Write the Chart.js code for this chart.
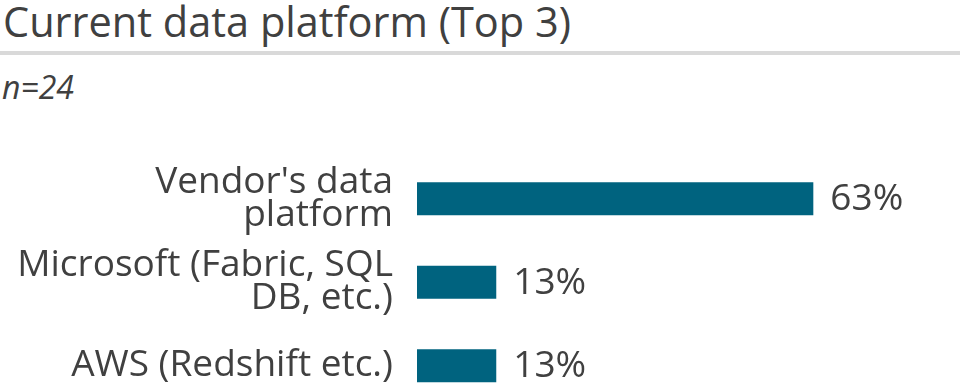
<!DOCTYPE html>
<html>
<head>
<meta charset="utf-8">
<script src="https://cdn.jsdelivr.net/npm/chart.js@4/dist/chart.umd.min.js"></script>
<style>
  html, body { margin: 0; padding: 0; background: #fff; }
  #wrap { position: relative; width: 960px; height: 390px; overflow: hidden; font-family: "Open Sans", sans-serif; color: #404040; }
  #title { position: absolute; left: 3px; top: -7.5px; font-size: 41.5px; line-height: normal; white-space: nowrap; color: #404040; }
  #rule { position: absolute; left: 0; top: 51px; width: 960px; height: 4px; background: #d9d9d9; }
  #sub { position: absolute; left: 2px; top: 65px; font-size: 32px; line-height: normal; font-style: italic; color: #404040; }
  #cv { position: absolute; left: 0; top: 0; }
</style>
</head>
<body>
<div id="wrap">
  <div id="title">Current data platform (Top 3)</div>
  <div id="rule"></div>
  <div id="sub">n=24</div>
  <canvas id="cv" width="960" height="410"></canvas>
</div>
<script>
const categories = [["Vendor's data", "platform"], ["Microsoft (Fabric, SQL", "DB, etc.)"], "AWS (Redshift etc.)"];
const values = [62.5, 12.5, 12.5];
const valueLabels = ["63%", "13%", "13%"];

const barValueLabels = {
  id: 'barValueLabels',
  afterDatasetsDraw(chart) {
    const ctx = chart.ctx;
    const meta = chart.getDatasetMeta(0);
    ctx.save();
    ctx.font = '37px "Open Sans"';
    ctx.fillStyle = '#404040';
    ctx.textAlign = 'left';
    ctx.textBaseline = 'middle';
    meta.data.forEach((bar, i) => {
      ctx.fillText(valueLabels[i], bar.x + 17, bar.y + 1);
    });
    ctx.restore();
  }
};

new Chart(document.getElementById('cv'), {
  type: 'bar',
  data: {
    labels: categories,
    datasets: [{
      data: values,
      backgroundColor: '#00637f',
      borderWidth: 0,
      barPercentage: 0.79,
      categoryPercentage: 0.5
    }]
  },
  options: {
    indexAxis: 'y',
    responsive: false,
    animation: false,
    layout: { padding: { top: 157, bottom: 2.5, left: 0, right: 4 } },
    plugins: { legend: { display: false }, tooltip: { enabled: false } },
    scales: {
      x: { display: false, min: 0, max: 85 },
      y: {
        afterFit(scale) { scale.width = 417; scale.paddingTop = 0; scale.paddingBottom = 0; },
        grid: { display: false, drawTicks: false },
        border: { display: false },
        ticks: {
          padding: 24,
          color: '#404040',
          font: { family: '"Open Sans"', size: 37, lineHeight: 0.89 }
        }
      }
    }
  },
  plugins: [barValueLabels]
});
</script>
</body>
</html>
